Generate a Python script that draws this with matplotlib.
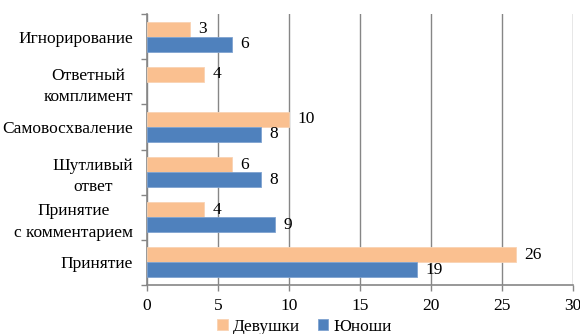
import numpy as np
import matplotlib.pyplot as plt

plt.rcParams['font.family'] = ['Liberation Serif', 'DejaVu Serif']

# категории сверху вниз
categories = ['Игнорирование', 'Ответный\nкомплимент', 'Самовосхваление',
              'Шутливый\nответ', 'Принятие\nс комментарием', 'Принятие']
girls = [3, 4, 10, 6, 4, 26]
boys = [6, None, 8, 8, 9, 19]
xticks = [0, 5, 10, 15, 20, 25, 30]

c_girls = '#FAC090'
c_boys = '#4F81BD'
c_axis = '#868686'
fs = 12.5

fig = plt.figure(figsize=(5.8, 3.34), dpi=100)
ax = fig.add_axes([147/580, 1 - 285/334, 426/580, 271/334])

n = len(categories)
y = np.arange(n)[::-1]
h = 1/3

g = np.array(girls, dtype=float)
b = np.array([np.nan if v is None else v for v in boys], dtype=float)

bg = ax.barh(y + h/2, g, height=h, color=c_girls, edgecolor='#F9D3B3',
             linewidth=0.6, label='Девушки', zorder=3)
bb = ax.barh(y - h/2, np.nan_to_num(b), height=h, color=c_boys,
             edgecolor='#7FA3D0', linewidth=0.6, label='Юноши', zorder=3)
# у юношей нет значения для "Ответный комплимент"
for bar, v in zip(bb, b):
    if np.isnan(v):
        bar.set_visible(False)

for yi, v in zip(y, g):
    ax.annotate(f'{v:g}', (v, yi + h/2), xytext=(6, 0), textcoords='offset points',
                va='center', ha='left', fontsize=fs)
for yi, v in zip(y, b):
    if np.isnan(v):
        continue
    ax.annotate(f'{v:g}', (v, yi - h/2), xytext=(6, 0), textcoords='offset points',
                va='center', ha='left', fontsize=fs)

ax.set_xlim(0, 30)
ax.set_ylim(-0.5, n - 0.5)
ax.set_xticks(xticks)
ax.tick_params(axis='x', labelsize=fs, colors=c_axis, labelcolor='black',
               length=4, width=1, pad=5)

ax.set_yticks(y)
ax.set_yticklabels(categories, fontsize=fs, linespacing=1.45)
ax.set_yticks(np.arange(n + 1) - 0.5, minor=True)
ax.tick_params(axis='y', which='major', length=0, pad=10)
ax.tick_params(axis='y', which='minor', length=4, width=1, colors=c_axis)
for lab in ax.get_yticklabels():
    lab.set_multialignment('center')

ax.grid(axis='x', color=c_axis, linewidth=1, zorder=0)
for s in ['top', 'right']:
    ax.spines[s].set_visible(False)
for s in ['left', 'bottom']:
    ax.spines[s].set_color(c_axis)
    ax.spines[s].set_linewidth(1.2)

fig.legend(handles=[bg, bb], loc='lower center', bbox_to_anchor=(0.525, -0.05),
           ncol=2, frameon=False, fontsize=fs, handlelength=0.6, handleheight=0.6,
           handletextpad=0.3, columnspacing=1.0)

fig.savefig('out.png', dpi=100)
